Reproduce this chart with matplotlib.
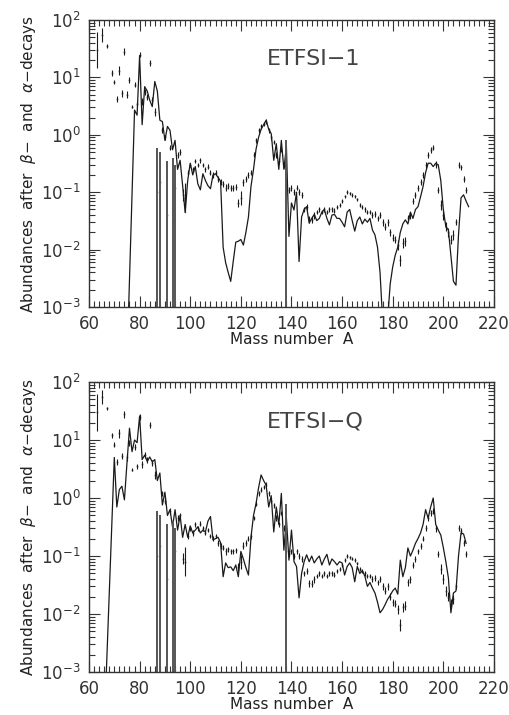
import numpy as np
import matplotlib
matplotlib.use("Agg")
import matplotlib.pyplot as plt
from matplotlib.ticker import MultipleLocator, LogLocator, NullFormatter

# observed solar r-abundances: mass number, value, half-width of error bar (dex)
obs_A = [63, 65, 67, 69, 70, 71, 72, 73, 74, 75, 76, 77, 78, 79, 80, 81, 82, 83, 84, 85,
         86, 89, 90, 92, 95, 96, 97, 98, 99, 100, 101, 102, 103, 104, 105, 106, 107, 108,
         109, 110, 111, 112, 113, 114, 115, 116, 117, 118, 119, 120, 121, 122, 123, 124,
         125, 126, 127, 128, 129, 130, 131, 132, 133, 134, 135, 136, 137, 139, 140, 141,
         142, 143, 144, 145, 146, 147, 148, 149, 150, 151, 152, 153, 154, 155, 156, 157,
         158, 159, 160, 161, 162, 163, 164, 165, 166, 167, 168, 169, 170, 171, 172, 173,
         174, 175, 176, 177, 178, 179, 180, 181, 182, 183, 184, 185, 186, 187, 188, 189,
         190, 191, 192, 193, 194, 195, 196, 197, 198, 199, 200, 201, 202, 203, 204, 205,
         206, 207, 208, 209]
obs_y = [30, 55, 35, 12, 8.3, 4.2, 13, 5.3, 28, 5.0, 9.0, 3.1, 7.5, 3.5, 25, 3.8, 5.5, 4.5, 18, 4.0,
         2.5, 1.2, 0.9, 0.6, 0.45, 0.5, 0.09, 0.08, 0.22, 0.3, 0.25, 0.35, 0.3, 0.36, 0.3, 0.25, 0.28, 0.22,
         0.2, 0.22, 0.17, 0.15, 0.14, 0.12, 0.13, 0.12, 0.12, 0.125, 0.065, 0.08, 0.15, 0.17, 0.2, 0.22,
         0.45, 0.8, 1.2, 1.4, 1.55, 1.7, 1.2, 0.9, 0.75, 0.45, 0.35, 0.55, 0.3, 0.11, 0.12, 0.1,
         0.12, 0.1, 0.09, 0.05, 0.055, 0.034, 0.033, 0.04, 0.045, 0.05, 0.045, 0.05, 0.045, 0.05, 0.05, 0.048,
         0.055, 0.06, 0.07, 0.085, 0.1, 0.095, 0.09, 0.085, 0.075, 0.06, 0.055, 0.05, 0.045, 0.045, 0.04, 0.042,
         0.035, 0.04, 0.03, 0.025, 0.03, 0.02, 0.016, 0.015, 0.012, 0.0065, 0.013, 0.014, 0.035, 0.04, 0.07, 0.09,
         0.12, 0.15, 0.2, 0.3, 0.45, 0.55, 0.6, 0.3, 0.11, 0.06, 0.04, 0.025, 0.02, 0.015, 0.018, 0.03,
         0.3, 0.27, 0.17, 0.11]
obs_dex = [0.32, 0.12, 0.03, 0.05, 0.04, 0.05, 0.08, 0.06, 0.06, 0.06, 0.05, 0.03, 0.05, 0.05, 0.05, 0.06, 0.05, 0.05, 0.05, 0.05,
           0.07, 0.05, 0.05, 0.05, 0.05, 0.05, 0.1, 0.25, 0.05, 0.04, 0.05, 0.04, 0.04, 0.04, 0.04, 0.04, 0.04, 0.04,
           0.05, 0.04, 0.05, 0.05, 0.05, 0.06, 0.05, 0.05, 0.05, 0.05, 0.07, 0.12, 0.06, 0.05, 0.05, 0.05,
           0.04, 0.04, 0.04, 0.04, 0.04, 0.04, 0.04, 0.04, 0.04, 0.05, 0.05, 0.04, 0.05, 0.05, 0.05, 0.05,
           0.04, 0.05, 0.05, 0.05, 0.05, 0.06, 0.06, 0.06, 0.04, 0.04, 0.04, 0.04, 0.04, 0.04, 0.04, 0.04,
           0.04, 0.04, 0.04, 0.03, 0.03, 0.03, 0.03, 0.03, 0.03, 0.04, 0.04, 0.04, 0.04, 0.04, 0.05, 0.05,
           0.05, 0.05, 0.06, 0.06, 0.06, 0.06, 0.06, 0.06, 0.08, 0.1, 0.08, 0.08, 0.06, 0.06, 0.05, 0.05,
           0.05, 0.05, 0.05, 0.05, 0.05, 0.05, 0.05, 0.06, 0.05, 0.08, 0.08, 0.08, 0.08, 0.08, 0.08, 0.05,
           0.05, 0.05, 0.05, 0.05]

# observed points whose error bars reach down to zero
unc_A = [87, 88, 91, 93, 94, 138]
unc_y = [0.1, 0.15, 0.04, 0.1, 0.12, 0.12]
unc_top = [0.6, 0.5, 0.35, 0.4, 0.3, 0.8]

# ETFSI-1 calculation
etfsi1_A = [75, 78, 79, 80, 81, 82, 83, 84, 85, 86, 87, 88, 89, 90, 91, 92, 93, 94, 95, 96,
            97, 98, 99, 100, 101, 102, 103, 104, 105, 106, 107, 108, 109, 110, 111, 112, 113, 114, 115, 116,
            117, 118, 119, 120, 121, 122, 123, 124, 125, 126, 127, 128, 129, 130, 131, 132, 133, 134, 135, 136,
            137, 138, 139, 140, 141, 142, 143, 144, 145, 146, 147, 148, 149, 150, 151, 152, 153, 154, 155, 156,
            157, 158, 159, 160, 161, 162, 163, 164, 165, 166, 167, 168, 169, 170, 171, 172, 173, 174, 175, 176,
            177, 178, 179, 180, 181, 182, 183, 184, 185, 186, 187, 188, 189, 190, 191, 192, 193, 194, 195, 196,
            197, 198, 199, 200, 201, 202, 203, 204, 205, 206, 207, 208, 209, 210]
etfsi1_y = [1e-4, 2.7, 2.2, 24, 1.5, 6.9, 5.8, 4.0, 3.1, 8.5, 5.8, 1.8, 1.7, 0.8, 1.4, 1.2, 0.55, 0.8, 0.25, 0.36,
            0.13, 0.044, 0.16, 0.32, 0.2, 0.28, 0.14, 0.11, 0.21, 0.16, 0.13, 0.115, 0.2, 0.21, 0.18, 0.155, 0.011, 0.0059, 0.004, 0.0028,
            0.0063, 0.0135, 0.014, 0.015, 0.012, 0.02, 0.037, 0.126, 0.25, 0.56, 0.9, 1.25, 1.5, 1.8, 1.25, 1.05, 0.36, 0.7, 0.25, 0.8,
            0.25, 0.63, 0.017, 0.065, 0.049, 0.1, 0.0062, 0.037, 0.05, 0.056, 0.029, 0.035, 0.041, 0.032, 0.035, 0.045, 0.05, 0.035, 0.027, 0.04,
            0.041, 0.035, 0.035, 0.03, 0.025, 0.045, 0.05, 0.032, 0.021, 0.032, 0.037, 0.028, 0.034, 0.03, 0.035, 0.022, 0.018, 0.011, 0.004, 6e-4,
            2.5e-4, 6e-4, 0.0025, 0.005, 0.008, 0.011, 0.02, 0.028, 0.033, 0.028, 0.045, 0.035, 0.05, 0.056, 0.083, 0.126, 0.22, 0.32, 0.32, 0.28,
            0.32, 0.3, 0.16, 0.05, 0.025, 0.022, 0.008, 0.0028, 0.0024, 0.018, 0.08, 0.09, 0.07, 0.056]

# ETFSI-Q calculation
etfsiq_A = [66, 70, 71, 72, 73, 74, 75, 76, 77, 78, 79, 80, 81, 82, 83, 84, 85, 86, 87, 88,
            89, 90, 91, 92, 93, 94, 95, 96, 97, 98, 99, 100, 101, 102, 103, 104, 105, 106, 107, 108,
            109, 110, 111, 112, 113, 114, 115, 116, 117, 118, 119, 120, 121, 122, 123, 124, 125, 126, 127, 128,
            129, 130, 131, 132, 133, 134, 135, 136, 137, 138, 139, 140, 141, 142, 143, 144, 145, 146, 147, 148,
            149, 150, 151, 152, 153, 154, 155, 156, 157, 158, 159, 160, 161, 162, 163, 164, 165, 166, 167, 168,
            169, 170, 171, 172, 173, 174, 175, 176, 177, 178, 179, 180, 181, 182, 183, 184, 185, 186, 187, 188,
            189, 190, 191, 192, 193, 194, 195, 196, 197, 198, 199, 200, 201, 202, 203, 204, 205, 206, 207, 208, 209]
etfsiq_y = [1e-4, 5.0, 0.7, 1.4, 1.6, 0.93, 4.0, 16, 6.3, 10, 9.0, 26, 4.6, 5.5, 4.3, 5.1, 4.2, 4.6, 2.0, 2.7,
            0.76, 1.26, 0.5, 0.63, 0.32, 0.63, 0.28, 0.5, 0.21, 0.35, 0.21, 0.33, 0.25, 0.28, 0.32, 0.25, 0.28, 0.26, 0.4, 0.48,
            0.19, 0.2, 0.21, 0.17, 0.044, 0.076, 0.063, 0.065, 0.056, 0.07, 0.044, 0.12, 0.089, 0.063, 0.047, 0.21, 0.5, 0.8, 1.5, 2.5,
            2.0, 1.66, 0.7, 1.1, 0.26, 0.7, 0.35, 1.2, 0.126, 0.45, 0.085, 0.28, 0.08, 0.066, 0.019, 0.05, 0.08, 0.105, 0.08, 0.1,
            0.076, 0.089, 0.1, 0.07, 0.089, 0.107, 0.07, 0.089, 0.08, 0.07, 0.08, 0.076, 0.047, 0.066, 0.076, 0.063, 0.036, 0.066, 0.05, 0.056,
            0.045, 0.03, 0.035, 0.028, 0.023, 0.016, 0.0105, 0.012, 0.0145, 0.018, 0.021, 0.025, 0.028, 0.022, 0.085, 0.044, 0.063, 0.138, 0.1, 0.126,
            0.166, 0.2, 0.25, 0.35, 0.63, 0.45, 0.7, 1.0, 0.35, 0.28, 0.23, 0.14, 0.08, 0.042, 0.0105, 0.023, 0.025, 0.1, 0.25, 0.24, 0.166]

panels = [("ETFSI\u22121", etfsi1_A, etfsi1_y), ("ETFSI\u2212Q", etfsiq_A, etfsiq_y)]
ylabel = "Abundances  after  $\\beta$\u2212  and  $\\alpha$\u2212decays"

plt.rcParams['font.family'] = ['DejaVu Sans']
plt.rcParams['mathtext.fontset'] = 'dejavusans'

fig = plt.figure(figsize=(5.1, 7.15), dpi=100)
boxes = [[0.1745, 0.5706, 0.794, 0.4014], [0.1745, 0.0601, 0.794, 0.4056]]

oy = np.array(obs_y)
od = np.array(obs_dex)
obs_err = [oy - oy * 10 ** (-od), oy * 10 ** od - oy]
uy = np.array(unc_y)
unc_err = [uy - 1e-6, np.array(unc_top) - uy]

for box, (name, la, ly) in zip(boxes, panels):
    ax = fig.add_axes(box)
    ax.set_yscale('log')
    ax.plot(la, ly, color='#1a1a1a', lw=0.9)
    ax.errorbar(obs_A, obs_y, yerr=obs_err, fmt='s', ms=1.1, mew=0, color='#1a1a1a',
                elinewidth=0.8, capsize=0)
    ax.errorbar(unc_A, unc_y, yerr=unc_err, fmt='s', ms=1.1, mew=0, color='#555555',
                elinewidth=1.4, capsize=0)
    ax.set_xlim(60, 220)
    ax.set_ylim(1e-3, 1e2)
    ax.xaxis.set_major_locator(MultipleLocator(20))
    ax.xaxis.set_minor_locator(MultipleLocator(2))
    ax.yaxis.set_major_locator(LogLocator(base=10, numticks=10))
    ax.yaxis.set_minor_locator(LogLocator(base=10, subs=np.arange(2, 10), numticks=10))
    ax.yaxis.set_minor_formatter(NullFormatter())
    ax.tick_params(which='both', direction='in', top=True, right=True, color='#333333', width=0.8)
    ax.tick_params(which='major', length=8, labelsize=12, pad=6, labelcolor='#333333')
    ax.tick_params(which='minor', length=4)
    for s in ax.spines.values():
        s.set_linewidth(1.0)
        s.set_color('#333333')
    ax.set_xlabel("Mass number  A", fontsize=11, labelpad=-1, color='#222222')
    ax.set_ylabel(ylabel, fontsize=11, labelpad=2, color='#222222')
    ax.text(0.44, 0.865, name, transform=ax.transAxes, fontsize=16, ha='left', va='center',
            color='#444444')

fig.savefig("out.png", dpi=100)
